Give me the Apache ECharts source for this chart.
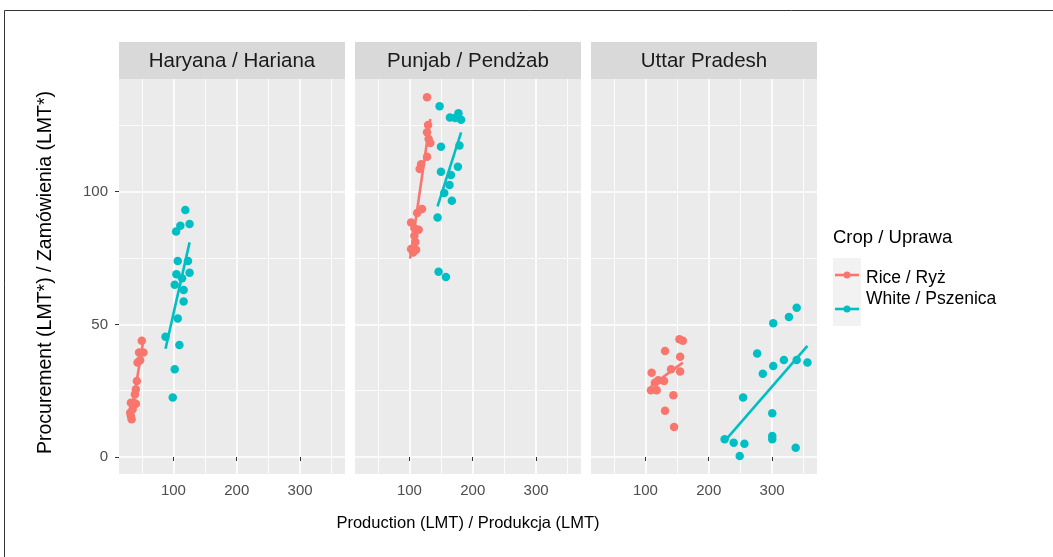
<!DOCTYPE html>
<html><head><meta charset="utf-8">
<script src="https://cdn.jsdelivr.net/npm/echarts@6/dist/echarts.min.js"></script>
<style>html,body{margin:0;padding:0;background:#fff}#c{width:1053px;height:557px}</style>
</head><body><div id="c"></div>
<script>
// ---- data ----
const states = ['Haryana / Hariana', 'Punjab / Pendżab', 'Uttar Pradesh'];
const crops = ['Rice / Ryż', 'White / Pszenica'];
const cropColors = ['#F8766D', '#00BFC4'];
const xTicks = [100, 200, 300];
const yTicks = [0, 50, 100];
const xTitle = 'Production (LMT) / Produkcja (LMT)';
const yTitle = 'Procurement (LMT*) / Zamówienia (LMT*)';
const legendTitle = 'Crop / Uprawa';

const haryanaRice = [[50,43.8],[45.8,39.4],[52.6,39.4],[43.3,35.6],[47.4,36.5],[42.2,28.7],[40.6,25.5],[39.1,23.6],[37,20.5],[32.8,20.5],[40.6,20.1],[35.5,18],[31.7,16.7],[33.9,14.2],[32.8,15.5]];
const haryanaWheat = [[118.8,93.1],[110.9,87.2],[125.5,87.8],[104.2,85],[106.8,73.9],[123,73.9],[104.7,68.9],[125.5,69.5],[113.6,67.4],[102,64.9],[116.1,63],[116.1,58.6],[106.8,52.2],[87.5,45.3],[109.4,42.2],[102,33.1],[98.9,22.4]];
const punjabRice = [[127.8,135.6],[129.4,125.2],[127.8,122.4],[130.3,119.9],[133,118.4],[127.8,113.2],[118.4,110.4],[116.2,108.6],[119.9,93.5],[112.1,92],[102.6,88.4],[107.8,86.2],[114.6,85.7],[107.8,83.4],[109.4,81.1],[102.6,78.4],[110.5,78.1],[105.8,77.1]];
const punjabWheat = [[147.6,132.2],[164,128],[172.2,127.8],[177.4,129.6],[181.6,127.1],[149.8,117],[179,117.4],[149.8,107.5],[176.5,109.4],[165.5,106.3],[163.3,102.5],[155,99.5],[167,96.6],[144.4,90.3],[146,69.8],[157.6,67.9]];
const upRice = [[153.7,44.4],[159,43.8],[131,40],[154.8,37.8],[109.8,31.8],[140.5,33.1],[154.8,32.2],[120.3,28.9],[129.4,28.7],[115,28],[108.7,25.2],[117.8,25.2],[144.1,23.3],[131,17.4],[145.2,11.3]];
const upWheat = [[338.9,56.3],[326.7,52.8],[301.9,50.4],[276.5,39],[318.7,36.6],[338.9,36.6],[355.9,35.6],[301.9,34.3],[285.4,31.4],[254.3,22.4],[300.3,16.5],[300.3,7.9],[300.3,6.7],[225.1,6.7],[239.4,5.4],[256.3,5],[248.9,0.4],[337.3,3.5]];

// fitted (lm) lines, endpoints
const haryanaRiceFit = [[31.7,13.6],[52.6,44.2]];
const haryanaWheatFit = [[87.5,40.8],[125.5,80.9]];
const punjabRiceFit = [[101,74.8],[133,127.4]];
const punjabWheatFit = [[144.4,94.5],[181.6,122.4]];
const upRiceFit = [[108.7,26.8],[159,35.6]];
const upWheatFit = [[225.1,6],[355.9,41.9]];

const points = [[haryanaRice, haryanaWheat],[punjabRice, punjabWheat],[upRice, upWheat]];
const fits = [[haryanaRiceFit, haryanaWheatFit],[punjabRiceFit, punjabWheatFit],[upRiceFit, upWheatFit]];

// ---- layout ----
const F = "'Liberation Sans', Arial, Helvetica, sans-serif";
const lefts = [119, 355, 591];
const PW = 226, PT = 79, PH = 395;
const stripTop = 42;

const grid = [], xAxis = [], yAxis = [], series = [], graphic = [];
states.forEach((st, i) => {
  grid.push({left: lefts[i], top: PT, width: PW, height: PH, show: true, backgroundColor: '#EBEBEB', borderWidth: 0});
  xAxis.push({type: 'value', gridIndex: i, min: 14, max: 371, splitNumber: 4,
    axisLine: {show: false},
    axisTick: {show: true, customValues: xTicks, length: 4, lineStyle: {color: '#333', width: 1}},
    axisLabel: {customValues: xTicks, color: '#4D4D4D', fontSize: 15, fontFamily: F, margin: 9},
    splitLine: {show: true, lineStyle: {color: '#fff', width: 1.6}},
    minorTick: {show: false, splitNumber: 2},
    minorSplitLine: {show: true, lineStyle: {color: '#fff', width: 0.8}}
  });
  yAxis.push({type: 'value', gridIndex: i, min: -6.4, max: 142.5, splitNumber: 3,
    axisLine: {show: false},
    axisTick: {show: i === 0, customValues: yTicks, length: 4, lineStyle: {color: '#333', width: 1}},
    axisLabel: {show: i === 0, customValues: yTicks, color: '#4D4D4D', fontSize: 15, fontFamily: F, margin: 11},
    splitLine: {show: true, lineStyle: {color: '#fff', width: 1.6}},
    minorTick: {show: false, splitNumber: 2},
    minorSplitLine: {show: true, lineStyle: {color: '#fff', width: 0.8}}
  });
  crops.forEach((cr, c) => {
    series.push({type: 'scatter', name: cr, xAxisIndex: i, yAxisIndex: i, data: points[i][c],
      symbol: 'circle', symbolSize: 8.5, itemStyle: {color: cropColors[c], opacity: 1}, z: 3, silent: true});
  });
  crops.forEach((cr, c) => {
    series.push({type: 'line', name: cr, xAxisIndex: i, yAxisIndex: i, data: fits[i][c],
      showSymbol: false, symbol: 'none', lineStyle: {color: cropColors[c], width: 2.6}, z: 4, silent: true});
  });
  graphic.push({type: 'rect', shape: {x: lefts[i], y: stripTop, width: PW, height: PT - stripTop}, style: {fill: '#D9D9D9'}, silent: true});
  graphic.push({type: 'text', x: lefts[i] + PW / 2, y: stripTop + (PT - stripTop) / 2 + 1, style: {text: st, fill: '#1A1A1A', font: '20.5px ' + F, textAlign: 'center', textVerticalAlign: 'middle'}, silent: true});
});

// axis titles
graphic.push({type: 'text', x: (lefts[0] + lefts[2] + PW) / 2, y: 523, style: {text: xTitle, fill: '#000', font: '16.5px ' + F, textAlign: 'center', textVerticalAlign: 'middle'}, silent: true});
graphic.push({type: 'text', x: 46, y: PT + PH / 2 - 4, rotation: Math.PI / 2, style: {text: yTitle, fill: '#000', font: '19.5px ' + F, textAlign: 'center', textVerticalAlign: 'middle'}, silent: true});

// legend
graphic.push({type: 'text', x: 833, y: 238, style: {text: legendTitle, fill: '#000', font: '18.5px ' + F, textAlign: 'left', textVerticalAlign: 'middle'}, silent: true});
const keyY = [275, 309], labelY = [278, 299];
crops.forEach((cr, c) => {
  graphic.push({type: 'rect', shape: {x: 833, y: keyY[c] - 17, width: 28, height: 34}, style: {fill: '#F2F2F2'}, silent: true});
  graphic.push({type: 'line', shape: {x1: 835, y1: keyY[c], x2: 859, y2: keyY[c]}, style: {stroke: cropColors[c], lineWidth: 2.6}, silent: true, z: 2});
  graphic.push({type: 'circle', shape: {cx: 847, cy: keyY[c], r: 3.5}, style: {fill: cropColors[c]}, silent: true, z: 3});
  graphic.push({type: 'text', x: 866, y: labelY[c], style: {text: cr, fill: '#000', font: '17.5px ' + F, textAlign: 'left', textVerticalAlign: 'middle'}, silent: true, z: 3});
});

// outer frame (top and left edges visible)
graphic.push({type: 'polyline', shape: {points: [[4.5, 560], [4.5, 10.5], [1060, 10.5]]}, style: {stroke: '#333', lineWidth: 1, fill: null}, silent: true});

const chart = echarts.init(document.getElementById('c'), null, {renderer: 'canvas'});
chart.setOption({animation: false, backgroundColor: '#fff', grid, xAxis, yAxis, series, graphic});
</script></body></html>
